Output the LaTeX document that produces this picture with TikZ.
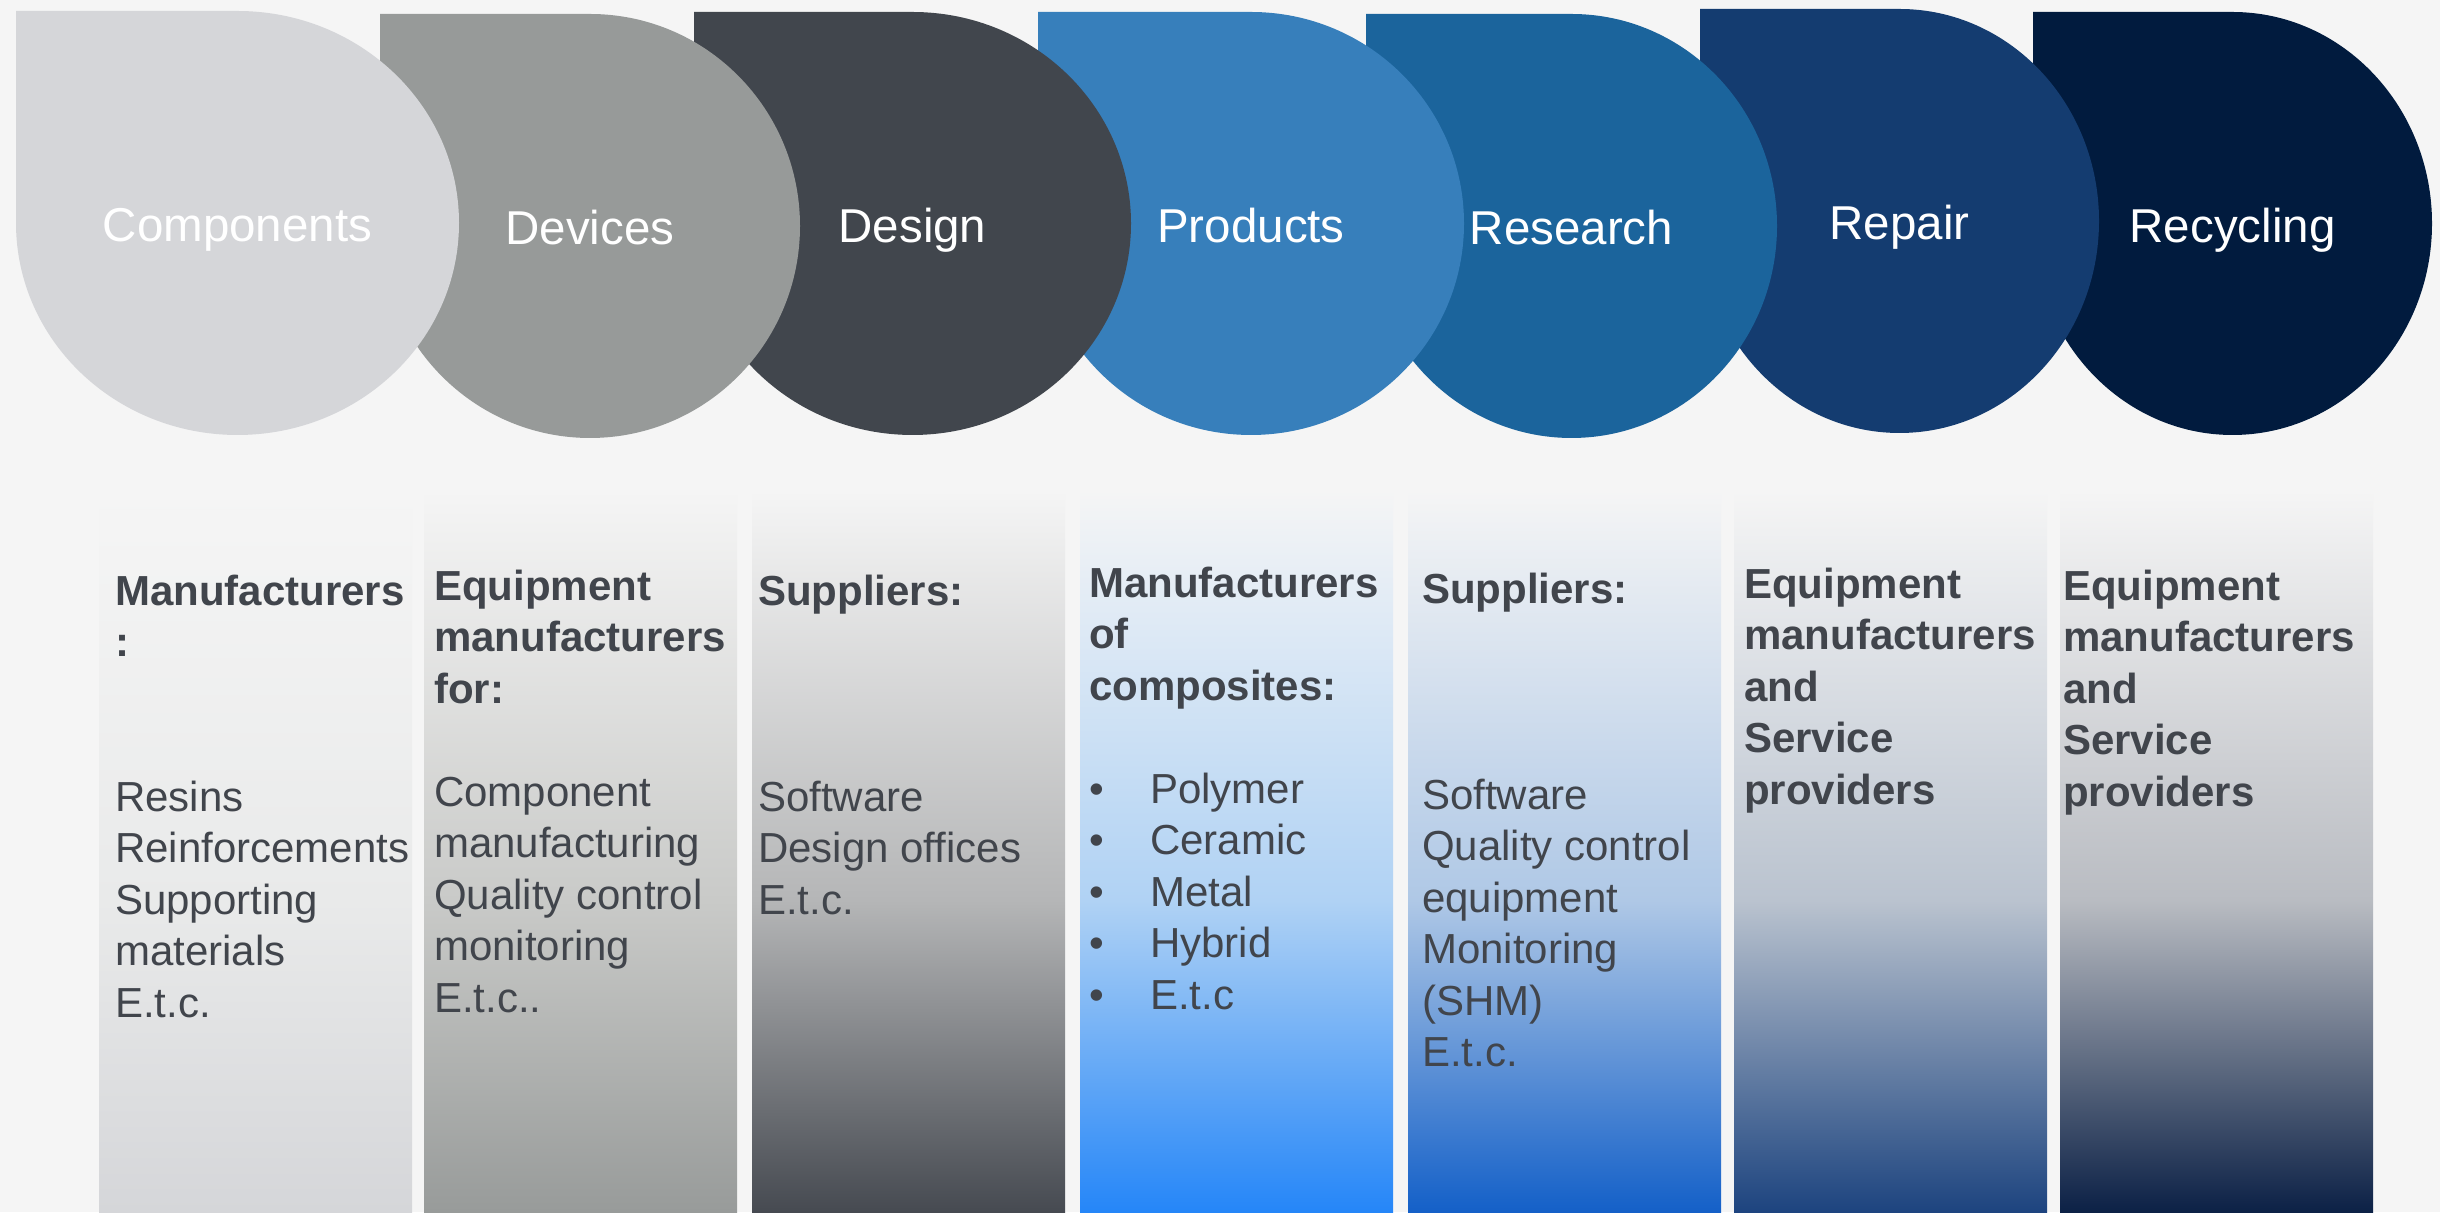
\documentclass[tikz,border=0pt]{standalone}
\usepackage{fontspec}
\setmainfont{Liberation Sans}
\usepackage{xcolor}
\usepackage{tikz}

\definecolor{pagebg}{HTML}{F5F5F5}
\definecolor{txtgray}{HTML}{41454C}

%colours of the drops
\definecolor{dropA}{HTML}{D5D6D9}
\definecolor{dropB}{HTML}{979A99}
\definecolor{dropC}{HTML}{41464D}
\definecolor{dropD}{HTML}{377FBB}
\definecolor{dropE}{HTML}{1B649C}
\definecolor{dropF}{HTML}{143C70}
\definecolor{dropG}{HTML}{011B3E}

%colours of the columns (bottom and middle)
\definecolor{botA}{HTML}{D5D6D9}
\definecolor{midA}{HTML}{E9EAEA}
\definecolor{botB}{HTML}{989B9A}
\definecolor{midB}{HTML}{C9CAC8}
\definecolor{botC}{HTML}{464A51}
\definecolor{midC}{HTML}{B5B6B7}
\definecolor{botD}{HTML}{2586F8}
\definecolor{midD}{HTML}{B0D2F4}
\definecolor{botE}{HTML}{1460C8}
\definecolor{midE}{HTML}{AFC8E6}
\definecolor{botF}{HTML}{1D447F}
\definecolor{midF}{HTML}{BAC3CF}
\definecolor{botG}{HTML}{0C2146}
\definecolor{midG}{HTML}{B9BCC2}

%vertical shading of a column, the rectangle covers 25bp to 75bp
\newcommand{\colshading}[3]{%
	\pgfdeclareverticalshading{#1}{100bp}{color(0bp)=(#2); color(25bp)=(#2); color(46.6bp)=(#3); color(75bp)=(pagebg); color(100bp)=(pagebg)}}
\colshading{shadeA}{botA}{midA}
\colshading{shadeB}{botB}{midB}
\colshading{shadeC}{botC}{midC}
\colshading{shadeD}{botD}{midD}
\colshading{shadeE}{botE}{midE}
\colshading{shadeF}{botF}{midF}
\colshading{shadeG}{botG}{midG}

%drop: square corner top left, round everywhere else (colour, left, top, right, bottom)
\newcommand{\dropshape}[5]{%
	\fill [#1] (#2,#3) -- ({(#2+#4)/2},#3) arc [start angle=90, end angle=-180, x radius={(#4-#2)/2}, y radius={(#3-#5)/2}] -- cycle;}

\newcommand{\bulletmark}{\makebox[61pt][l]{\textbullet}}

\begin{document}
\begin{tikzpicture}[x=1pt, y=1pt,
	droplabel/.style={anchor=base, inner sep=0pt, text=white, font=\fontsize{47.5}{57}\selectfont},
	coltext/.style={anchor=north west, inner sep=0pt, align=left, text=txtgray, font=\fontsize{42}{51.5}\selectfont}]
		
		%background, fixes the bounding box too
		\fill [pagebg] (0,0) rectangle (2440,1212);
		\useasboundingbox (0,0) rectangle (2440,1212);
		
		%definition of the column size
		\def\colW{313};
		\def\colH{722};
		
		%origins of the columns
		\coordinate (col1) at (99,0);
		\coordinate (col2) at (424,0);
		\coordinate (col3) at (752,0);
		\coordinate (col4) at (1080,0);
		\coordinate (col5) at (1408,0);
		\coordinate (col6) at (1734,0);
		\coordinate (col7) at (2060,0);
		
		%columns
		\shade [shading=shadeA] (col1) rectangle ++(\colW,\colH);
		\shade [shading=shadeB] (col2) rectangle ++(\colW,\colH);
		\shade [shading=shadeC] (col3) rectangle ++(\colW,\colH);
		\shade [shading=shadeD] (col4) rectangle ++(\colW,\colH);
		\shade [shading=shadeE] (col5) rectangle ++(\colW,\colH);
		\shade [shading=shadeF] (col6) rectangle ++(\colW,\colH);
		\shade [shading=shadeG] (col7) rectangle ++(\colW,\colH);
		
		%drops, from right to left so each one lies on the next
		\dropshape{dropG}{2033}{1200}{2432}{777}
		\node [droplabel] (recycling) at (2232.5,969.5) {Recycling};
		
		\dropshape{dropF}{1700}{1203}{2099}{779}
		\node [droplabel] (repair) at (1899.5,972) {Repair};
		
		\dropshape{dropE}{1366}{1198}{1777}{774}
		\node [droplabel] (research) at (1571.5,967) {Research};
		
		\dropshape{dropD}{1038}{1200}{1464}{777}
		\node [droplabel] (products) at (1251,969.5) {Products};
		
		\dropshape{dropC}{694}{1200}{1131}{777}
		\node [droplabel] (design) at (912.5,969.5) {Design};
		
		\dropshape{dropB}{380}{1198}{800}{774}
		\node [droplabel] (devices) at (590,967) {Devices};
		
		\dropshape{dropA}{16}{1201}{459}{777}
		\node [droplabel] (components) at (237.5,970) {Components};
		
		%texts of the columns
		\path (col1) ++(16,639) node [coltext] (makers) {\rule{0pt}{32pt}\textbf{Manufacturers}\\\textbf{:}\\[103pt]Resins\\Reinforcements\\Supporting\\materials\\E.t.c.};
		
		\path (col2) ++(10,644) node [coltext] (equipment) {\rule{0pt}{32pt}\textbf{Equipment}\\\textbf{manufacturers}\\\textbf{for:}\\[51.5pt]Component\\manufacturing\\Quality control\\monitoring\\E.t.c..};
		
		\path (col3) ++(6,639) node [coltext] (software) {\rule{0pt}{32pt}\textbf{Suppliers:}\\[154.5pt]Software\\Design offices\\E.t.c.};
		
		\path (col4) ++(9,647) node [coltext] (composites) {\rule{0pt}{32pt}\textbf{Manufacturers}\\\textbf{of}\\\textbf{composites:}\\[51.5pt]\bulletmark Polymer\\\bulletmark Ceramic\\\bulletmark Metal\\\bulletmark Hybrid\\\bulletmark E.t.c};
		
		\path (col5) ++(14,641) node [coltext] (quality) {\rule{0pt}{32pt}\textbf{Suppliers:}\\[154.5pt]Software\\Quality control\\equipment\\Monitoring\\(SHM)\\E.t.c.};
		
		\path (col6) ++(10,646) node [coltext] (service) {\rule{0pt}{32pt}\textbf{Equipment}\\\textbf{manufacturers}\\\textbf{and}\\\textbf{Service}\\\textbf{providers}};
		
		\path (col7) ++(3,644) node [coltext] (recyclers) {\rule{0pt}{32pt}\textbf{Equipment}\\\textbf{manufacturers}\\\textbf{and}\\\textbf{Service}\\\textbf{providers}};
	\end{tikzpicture}
\end{document}
